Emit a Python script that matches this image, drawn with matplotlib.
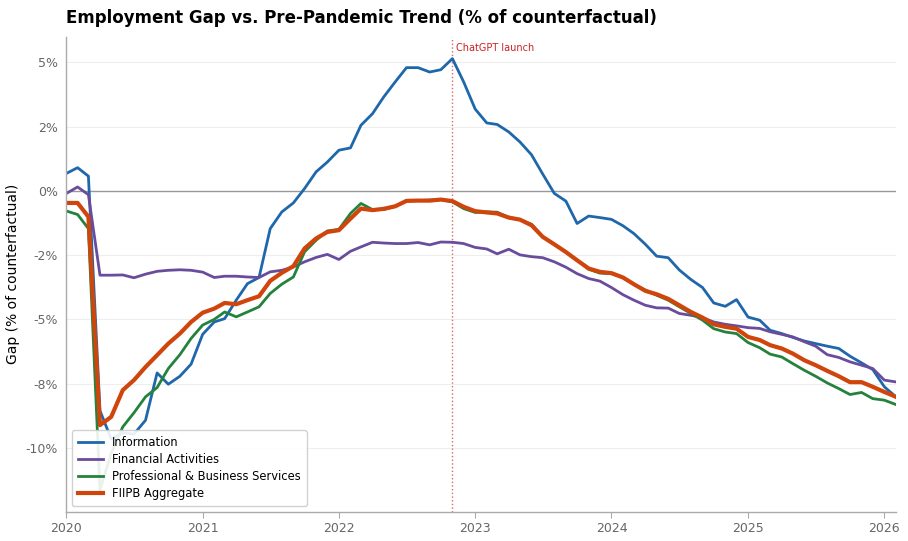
import numpy as np
import pandas as pd
import matplotlib
matplotlib.use("Agg")
import matplotlib.pyplot as plt
import matplotlib.dates as mdates
from matplotlib.ticker import FuncFormatter, MultipleLocator

# monthly gap vs pre-pandemic trend, % of counterfactual, Jan 2020 - Feb 2026
months = pd.date_range("2020-01-01", periods=74, freq="MS")

information = [
    0.67, 0.90, 0.57, -8.55, -9.65, -9.41, -9.46, -8.92, -7.08, -7.52, -7.21, -6.74,
    -5.58, -5.10, -4.97, -4.25, -3.61, -3.37, -1.47, -0.82, -0.47, 0.09, 0.74, 1.12,
    1.58, 1.67, 2.55, 3.00, 3.65, 4.24, 4.79, 4.79, 4.62, 4.71, 5.14, 4.24,
    3.18, 2.64, 2.58, 2.29, 1.90, 1.40, 0.65, -0.10, -0.40, -1.27, -0.98, -1.04,
    -1.11, -1.36, -1.66, -2.08, -2.54, -2.60, -3.08, -3.45, -3.76, -4.36, -4.49, -4.23,
    -4.91, -5.03, -5.42, -5.55, -5.70, -5.84, -5.94, -6.04, -6.13, -6.43, -6.69, -6.95,
    -7.62, -8.01,
]
financial = [
    -0.11, 0.15, -0.15, -3.28, -3.28, -3.27, -3.38, -3.24, -3.13, -3.09, -3.07, -3.09,
    -3.16, -3.37, -3.32, -3.32, -3.35, -3.37, -3.15, -3.09, -2.96, -2.76, -2.59, -2.47,
    -2.67, -2.35, -2.18, -2.00, -2.03, -2.05, -2.05, -2.01, -2.10, -1.99, -2.00, -2.05,
    -2.20, -2.26, -2.45, -2.27, -2.49, -2.56, -2.60, -2.76, -2.97, -3.22, -3.41, -3.51,
    -3.76, -4.04, -4.25, -4.45, -4.55, -4.56, -4.77, -4.84, -4.93, -5.10, -5.19, -5.25,
    -5.32, -5.35, -5.48, -5.58, -5.68, -5.87, -6.04, -6.37, -6.48, -6.65, -6.78, -6.91,
    -7.36, -7.43,
]
prof_business = [
    -0.78, -0.92, -1.47, -11.64, -10.20, -9.18, -8.63, -8.01, -7.65, -6.91, -6.37, -5.74,
    -5.22, -5.00, -4.71, -4.90, -4.71, -4.51, -3.99, -3.63, -3.35, -2.37, -1.92, -1.56,
    -1.50, -0.88, -0.49, -0.73, -0.73, -0.60, -0.39, -0.38, -0.36, -0.34, -0.43, -0.69,
    -0.84, -0.82, -0.83, -1.04, -1.12, -1.30, -1.79, -2.08, -2.38, -2.70, -3.05, -3.20,
    -3.22, -3.37, -3.63, -3.86, -4.06, -4.25, -4.51, -4.77, -5.03, -5.36, -5.49, -5.55,
    -5.90, -6.10, -6.35, -6.46, -6.72, -6.98, -7.21, -7.47, -7.69, -7.92, -7.84, -8.08,
    -8.14, -8.31,
]
fiipb = [
    -0.47, -0.47, -1.01, -9.11, -8.79, -7.75, -7.36, -6.85, -6.39, -5.94, -5.55, -5.10,
    -4.74, -4.58, -4.36, -4.41, -4.25, -4.10, -3.50, -3.19, -2.93, -2.24, -1.85, -1.60,
    -1.53, -1.08, -0.69, -0.75, -0.70, -0.60, -0.39, -0.38, -0.38, -0.34, -0.40, -0.62,
    -0.79, -0.84, -0.88, -1.04, -1.12, -1.34, -1.79, -2.08, -2.38, -2.70, -3.02, -3.15,
    -3.20, -3.37, -3.63, -3.89, -4.02, -4.20, -4.45, -4.71, -4.93, -5.19, -5.29, -5.36,
    -5.68, -5.80, -6.00, -6.13, -6.33, -6.59, -6.78, -7.00, -7.21, -7.44, -7.44, -7.62,
    -7.82, -8.01,
]

series = [
    ("Information", information, "#1f67ab", 2.0),
    ("Financial Activities", financial, "#6a4c9c", 2.0),
    ("Professional & Business Services", prof_business, "#23823c", 2.0),
    ("FIIPB Aggregate", fiipb, "#d0450b", 3.0),
]

chatgpt_date = pd.Timestamp("2022-11-01")

fig = plt.figure(figsize=(9.08, 5.41), dpi=100)
ax = fig.add_axes([0.0727, 0.054, 0.914, 0.878])

for label, values, color, lw in series:
    ax.plot(months, values, color=color, linewidth=lw, label=label)

ax.axhline(0, color="#999999", linewidth=1.0, zorder=1)
ax.axvline(chatgpt_date, color="#e06666", linestyle=":", linewidth=1.0, zorder=1)
ax.text(chatgpt_date + pd.Timedelta(days=10), 5.54, "ChatGPT launch",
        color="#cc2222", fontsize=7, va="center", ha="left")

ax.set_xlim(months[0], months[-1])
ax.set_ylim(-12.48, 5.99)

ax.yaxis.set_major_locator(MultipleLocator(2.5))
ax.yaxis.set_major_formatter(FuncFormatter(lambda v, p: "{:.0f}%".format(v)))
ax.xaxis.set_major_locator(mdates.YearLocator())
ax.xaxis.set_major_formatter(mdates.DateFormatter("%Y"))

ax.grid(axis="y", color="#eeeeee", linewidth=0.8)
ax.set_axisbelow(True)
for side in ["top", "right"]:
    ax.spines[side].set_visible(False)
for side in ["left", "bottom"]:
    ax.spines[side].set_color("#aaaaaa")
    ax.spines[side].set_linewidth(1.0)
ax.tick_params(axis="y", length=0, colors="#666666", labelsize=9, pad=6)
ax.tick_params(axis="x", length=4, color="#aaaaaa", colors="#666666", labelsize=9)
ax.tick_params(axis="both", labelcolor="#666666")

ax.set_ylabel("Gap (% of counterfactual)", fontsize=10)
ax.set_title("Employment Gap vs. Pre-Pandemic Trend (% of counterfactual)",
             loc="left", fontsize=12, fontweight="bold", pad=10)

ax.legend(loc="lower left", fontsize=8.3, frameon=True, framealpha=0.9,
          edgecolor="#cccccc", handlelength=2.2, borderpad=0.5, labelspacing=0.35)

fig.savefig("out.png", dpi=100)
